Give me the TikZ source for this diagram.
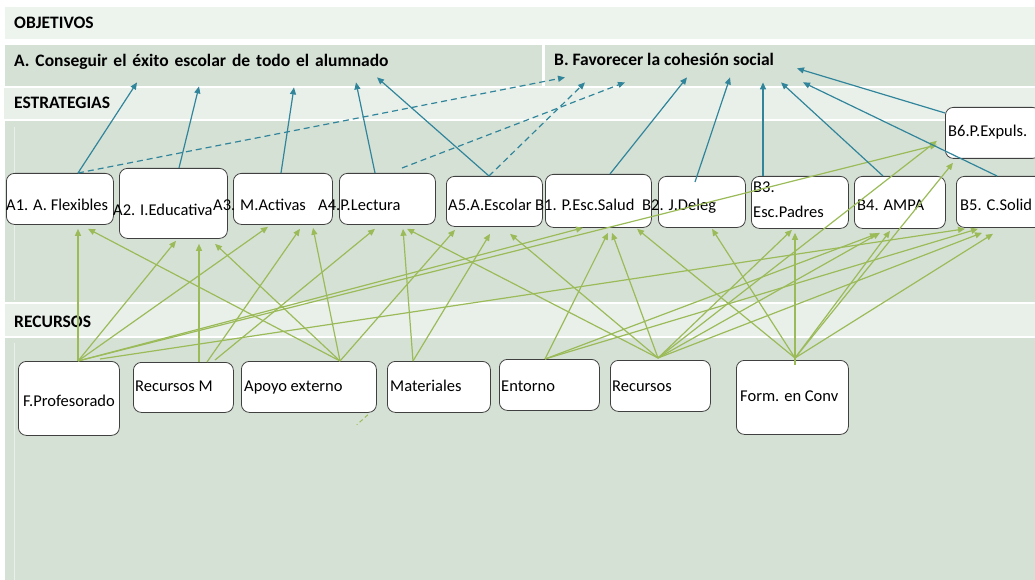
\documentclass[tikz,border=0pt]{standalone}
\usepackage{fontspec}
\setmainfont{Carlito}
\usetikzlibrary{arrows.meta}
\definecolor{bandtop}{RGB}{237,244,238}
\definecolor{bandlight}{RGB}{233,240,234}
\definecolor{banddark}{RGB}{214,225,214}
\definecolor{objblue}{RGB}{49,133,155}
\definecolor{resgreen}{RGB}{155,187,89}
\begin{document}
\begin{tikzpicture}[x=1pt,y=-1pt,
  band/.style={anchor=north west, inner sep=0pt, fill=banddark},
  box/.style={draw=black!75, line width=0.8pt, rounded corners=8pt, fill=white, inner sep=0pt, anchor=north west},
  lbl/.style={anchor=base west, inner sep=0pt, font=\fontsize{16.5}{18}\selectfont},
  head/.style={anchor=base west, inner sep=0pt, font=\fontsize{17.5}{20}\selectfont\bfseries},
  res/.style={draw=resgreen, line width=1.2pt, -{Triangle[length=7pt,width=6pt]}},
  obj/.style={draw=objblue, line width=1.2pt, -{Triangle[length=7pt,width=6pt]}},
  objd/.style={obj, dash pattern=on 6pt off 4pt}]
  \useasboundingbox (0,0) rectangle (1035,580);
  % Bands
  \fill[bandtop] (5,7) rectangle (1035,39);
  \node[band, minimum width=537pt, minimum height=41pt] (objA) at (5,45) {};
  \node[band, minimum width=490pt, minimum height=41pt] (objB) at (545,45) {};
  \fill[bandlight] (4,88) rectangle (1035,119);
  \fill[banddark] (5,121) rectangle (1035,302);
  \fill[bandlight] (5,304) rectangle (1035,336);
  \fill[banddark] (5,338) rectangle (1035,580);
  \draw[bandlight, line width=1pt] (14,127) -- (14,300) (14,343) -- (14,580);
  \node[head] (objt) at (14,29) {OBJETIVOS};
  \node[head] (objAt) at (14,67) {\spaceskip=5.9pt A. Conseguir el éxito escolar de todo el alumnado};
  \node[head] (objBt) at (554,66) {B. Favorecer la cohesión social};
  \node[head] (estt) at (14,109) {ESTRATEGIAS};
  \node[head] (rect) at (14,327) {RECURSOS};
  % Estrategias
  \node[box, minimum width=107pt, minimum height=51pt] (a1) at (6,173) {};
  \node[box, minimum width=108pt, minimum height=70pt] (a2) at (119,168) {};
  \node[box, minimum width=99pt, minimum height=51pt] (a3) at (233,173) {};
  \node[box, minimum width=96pt, minimum height=51pt] (a4) at (339,173) {};
  \node[box, minimum width=96pt, minimum height=50pt] (a5) at (446,176) {};
  \node[box, minimum width=106pt, minimum height=53pt] (b1) at (545,174) {};
  \node[box, minimum width=87pt, minimum height=51pt] (b2) at (658,176) {};
  \node[box, minimum width=97pt, minimum height=52pt] (b3) at (751,176) {};
  \node[box, minimum width=91pt, minimum height=52pt] (b4) at (854,176) {};
  \node[box, minimum width=90pt, minimum height=51pt] (b5) at (956,176) {};
  \node[box, minimum width=95pt, minimum height=51pt] (b6) at (945,107) {};
  \node[lbl] (a1t) at (6,211) {A1. A. Flexibles};
  \node[lbl] (a2t) at (113,215) {A2. I.Educativa};
  \node[lbl] (a3t) at (213,211) {A3. M.Activas};
  \node[lbl] (a4t) at (318,211) {A4.P.Lectura};
  \node[lbl] (a5t) at (448,211) {A5.A.Escolar};
  \node[lbl] (b1t) at (535,211) {B1. P.Esc.Salud};
  \node[lbl] (b2t) at (642,211) {B2. J.Deleg};
  \node[lbl] (b3t) at (753,193) {B3.};
  \node[lbl] (b3u) at (753,217) {Esc.Padres};
  \node[lbl] (b4t) at (857,211) {B4. AMPA};
  \node[lbl] (b5t) at (960,211) {B5. C.Solid};
  \node[lbl] (b6t) at (948,137) {B6.P.Expuls.};
  % Recursos
  \node[box, minimum width=101pt, minimum height=74pt] (fp) at (18,361) {};
  \node[box, minimum width=100pt, minimum height=50pt] (rm) at (133,362) {};
  \node[box, minimum width=135pt, minimum height=51pt] (ap) at (241,361) {};
  \node[box, minimum width=103pt, minimum height=51pt] (ma) at (387,361) {};
  \node[box, minimum width=100pt, minimum height=51pt] (en) at (499,359) {};
  \node[box, minimum width=100pt, minimum height=51pt] (re) at (610,360) {};
  \node[box, minimum width=112pt, minimum height=74pt] (fc) at (736,360) {};
  \node[lbl] (fpt) at (23,406) {F.Profesorado};
  \node[lbl] (rmt) at (135,391) {Recursos M};
  \node[lbl] (apt) at (244,391) {Apoyo externo};
  \node[lbl] (mat) at (390,391) {Materiales};
  \node[lbl] (ent) at (501,391) {Entorno};
  \node[lbl] (ret) at (612,391) {Recursos};
  \node[lbl] (fct) at (740,401) {Form. en Conv};
  % Ports
  \coordinate (fp-o) at ([xshift=60pt]fp.north west);
  \coordinate (fp-p) at ([xshift=82pt,yshift=2pt]fp.north west);
  \coordinate (rm-o) at ([xshift=66pt]rm.north west);
  \coordinate (rm-p) at ([xshift=74pt]rm.north west);
  \coordinate (rm-q) at ([xshift=82pt,yshift=2pt]rm.north west);
  \coordinate (ap-o) at ([xshift=99pt]ap.north west);
  \coordinate (ma-o) at ([xshift=26pt]ma.north west);
  \coordinate (en-o) at ([xshift=46pt]en.north west);
  \coordinate (re-o) at ([xshift=48pt,yshift=2pt]re.north west);
  \coordinate (fc-o) at ([xshift=59pt,yshift=2pt]fc.north west);
  % Recursos -> estrategias
  \draw[res] (fp-o) -- ([xshift=72pt,yshift=-4pt]a1.south west);
  \draw[res] (fp-o) -- ([xshift=57pt,yshift=-2pt]a2.south west);
  \draw[res] (fp-o) -- ([xshift=35pt,yshift=-2pt]a3.south west);
  \draw[res] (fp-o) -- ([xshift=38pt]b1.south west);
  \draw[res] (fp-o) -- ([xshift=-8pt,yshift=14pt]b6.south west);
  \draw[res] (fp-p) -- ([xshift=9pt,yshift=-1pt]b5.south west);
  \draw[res] (rm-o) -- ([xshift=80pt,yshift=-5pt]a2.south west);
  \draw[res] (rm-p) -- ([xshift=67pt,yshift=-4pt]a3.south west);
  \draw[res] (rm-q) -- ([xshift=36pt,yshift=-4pt]a4.south west);
  \draw[res] (ap-o) -- ([xshift=82pt,yshift=-4pt]a1.south west);
  \draw[res] (ap-o) -- ([xshift=96pt,yshift=-5pt]a2.south west);
  \draw[res] (ap-o) -- ([xshift=80pt,yshift=-3pt]a3.south west);
  \draw[res] (ap-o) -- ([xshift=9pt,yshift=-3pt]a5.south west);
  \draw[res] (ma-o) -- ([xshift=64pt,yshift=-4pt]a4.south west);
  \draw[res] (ma-o) -- ([xshift=44pt,yshift=-7pt]a5.south west);
  \draw[res] (en-o) -- ([xshift=63pt,yshift=-5pt]b1.south west);
  \draw[res] (en-o) -- ([xshift=23pt,yshift=-5pt]b4.south west);
  \draw[res] (en-o) -- ([xshift=22pt,yshift=-1pt]b5.south west);
  \draw[res] (re-o) -- ([xshift=68pt,yshift=-4pt]a4.south west);
  \draw[res] (re-o) -- ([xshift=64pt,yshift=-7pt]a5.south west);
  \draw[res] (re-o) -- ([xshift=67pt,yshift=-5pt]b1.south west);
  \draw[res] (re-o) -- ([xshift=41pt,yshift=-1pt]b3.south west);
  \draw[res] (re-o) -- ([xshift=26pt,yshift=-4pt]b4.south west);
  \draw[res] (re-o) -- ([xshift=26pt,yshift=-5pt]b5.south west);
  \draw[res] (re-o) -- ([xshift=-8pt,yshift=18pt]b6.south west);
  \draw[res] (fc-o) -- ([xshift=92pt,yshift=-1pt]b1.south west);
  \draw[res] (fc-o) -- ([xshift=54pt,yshift=-1pt]b2.south west);
  \draw[res] ([xshift=59pt,yshift=-5pt]fc.north west) -- ([xshift=44pt,yshift=-4pt]b3.south west);
  \draw[res] (fc-o) -- ([xshift=36pt,yshift=-2pt]b4.south west);
  \draw[res] (fc-o) -- ([xshift=37pt,yshift=-6pt]b5.south west);
  \draw[res] (fc-o) -- ([xshift=8pt,yshift=-4pt]b6.south west);
  \draw[resgreen, line width=1pt, dash pattern=on 4pt off 3pt] ([xshift=-9pt,yshift=-2pt]ap.south east) -- ++(-11,10);
  % Estrategias -> objetivos
  \draw[obj] ([xshift=72pt]a1.north west) -- ([xshift=132pt,yshift=4pt]objA.south west);
  \draw[obj] ([xshift=60pt]a2.north west) -- ([xshift=194pt]objA.south west);
  \draw[obj] ([xshift=48pt]a3.north west) -- ([xshift=289pt,yshift=-1pt]objA.south west);
  \draw[obj] ([xshift=36pt]a4.north west) -- ([xshift=351pt,yshift=4pt]objA.south west);
  \draw[obj] ([xshift=43pt]a5.north west) -- ([xshift=372pt,yshift=9pt]objA.south west);
  \draw[objd] ([xshift=72pt]a1.north west) -- ([xshift=20pt,yshift=9pt]objB.south west);
  \draw[objd] ([xshift=63pt,yshift=5pt]a4.north west) -- ([xshift=80pt,yshift=4pt]objB.south west);
  \draw[objd] ([xshift=43pt]a5.north west) -- ([xshift=40pt,yshift=4pt]objB.south west);
  \draw[obj] ([xshift=65pt]b1.north west) -- ([xshift=142pt,yshift=9pt]objB.south west);
  \draw[obj] ([xshift=37pt,yshift=-6pt]b2.north west) -- ([xshift=185pt,yshift=9pt]objB.south west);
  \draw[obj] ([xshift=12pt]b3.north west) -- ([xshift=218pt,yshift=4pt]objB.south west);
  \draw[obj] ([xshift=29pt]b4.north west) -- ([xshift=236pt,yshift=4pt]objB.south west);
  \draw[obj] ([xshift=41pt]b5.north west) -- ([xshift=258pt,yshift=4pt]objB.south west);
  \draw[obj] ([yshift=-6pt]b6.north west) -- ([xshift=252pt,yshift=18pt]objB.south west);
\end{tikzpicture}
\end{document}
